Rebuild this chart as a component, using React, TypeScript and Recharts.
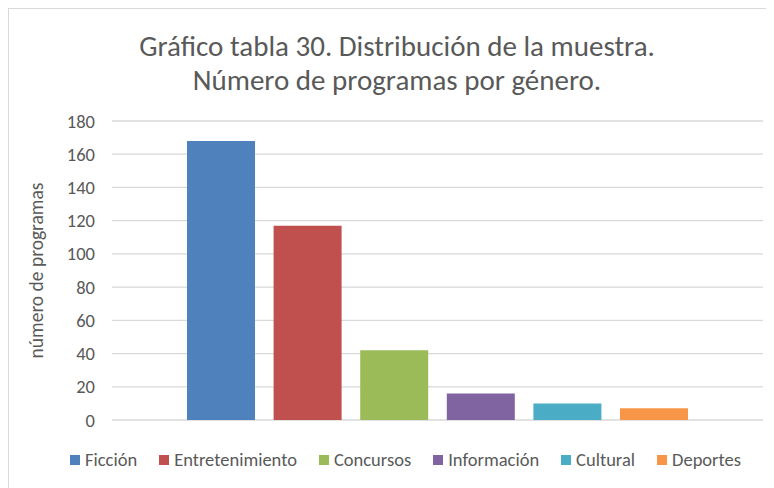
import { BarChart, Bar, XAxis, YAxis, CartesianGrid } from "recharts";

const genres = ["Ficción", "Entretenimiento", "Concursos", "Información", "Cultural", "Deportes"];
const counts = [168, 117, 42, 16, 10, 7];
const colors = ["#4F81BD", "#C0504D", "#9BBB59", "#8064A2", "#4BACC6", "#F79646"];
const yTicks = [0, 20, 40, 60, 80, 100, 120, 140, 160, 180];

const FONT = "Carlito, Calibri, 'Liberation Sans Narrow', 'Open Sans', sans-serif";
const TEXT = "#595959";

const row: Record<string, number | string> = { name: "muestra" };
genres.forEach((g, i) => {
  row[g] = counts[i];
});
const data = [row];

function LegendRow() {
  return (
    <div
      style={{
        position: "absolute",
        top: 439,
        left: 0,
        width: 765,
        paddingLeft: 28,
        boxSizing: "border-box",
        display: "flex",
        justifyContent: "center",
        gap: 22,
        fontFamily: FONT,
        fontSize: 18.5,
        lineHeight: "24px",
        color: TEXT,
      }}
    >
      {genres.map((g, i) => (
        <div key={g} style={{ display: "flex", alignItems: "center", gap: 5 }}>
          <span style={{ width: 10, height: 10, background: colors[i], display: "inline-block" }} />
          <span>{g}</span>
        </div>
      ))}
    </div>
  );
}

function YLabel(props: any) {
  const { viewBox } = props;
  const cx = viewBox.x + 27;
  const cy = viewBox.y + viewBox.height / 2;
  return (
    <text
      x={cx}
      y={cy}
      transform={`rotate(-90, ${cx}, ${cy})`}
      textAnchor="middle"
      dominantBaseline="central"
      fill={TEXT}
      fontSize={19.5}
      fontFamily={FONT}
    >
      número de programas
    </text>
  );
}

export default function App() {
  return (
    <div
      style={{
        position: "relative",
        width: 765,
        height: 479,
        borderLeft: "1px solid #d9d9d9",
        borderTop: "1px solid #d9d9d9",
        background: "#fff",
        overflow: "hidden",
      }}
    >
      <div
        style={{
          position: "absolute",
          top: 20,
          left: 0,
          width: 776,
          textAlign: "center",
          fontFamily: FONT,
          fontSize: 29,
          lineHeight: "34px",
          color: TEXT,
        }}
      >
        Gráfico tabla 30. Distribución de la muestra.
        <br />
        Número de programas por género.
      </div>
      <BarChart
        width={765}
        height={479}
        data={data}
        margin={{ top: 112, right: 11, bottom: 68, left: 0 }}
        barCategoryGap={75}
        barGap={18.6}
        barSize={68}
        style={{ position: "absolute", top: 0, left: 0 }}
      >
        <CartesianGrid vertical={false} stroke="#d9d9d9" strokeWidth={1.3} />
        <XAxis dataKey="name" hide />
        <YAxis
          width={103}
          domain={[0, 180]}
          ticks={yTicks}
          interval={0}
          axisLine={false}
          tickLine={false}
          tickSize={0}
          tickMargin={17}
          tick={{ fill: TEXT, fontSize: 18.5, fontFamily: FONT }}
          label={<YLabel />}
        />
        {genres.map((g, i) => (
          <Bar key={g} dataKey={g} fill={colors[i]} isAnimationActive={false} />
        ))}
      </BarChart>
      <LegendRow />
    </div>
  );
}
